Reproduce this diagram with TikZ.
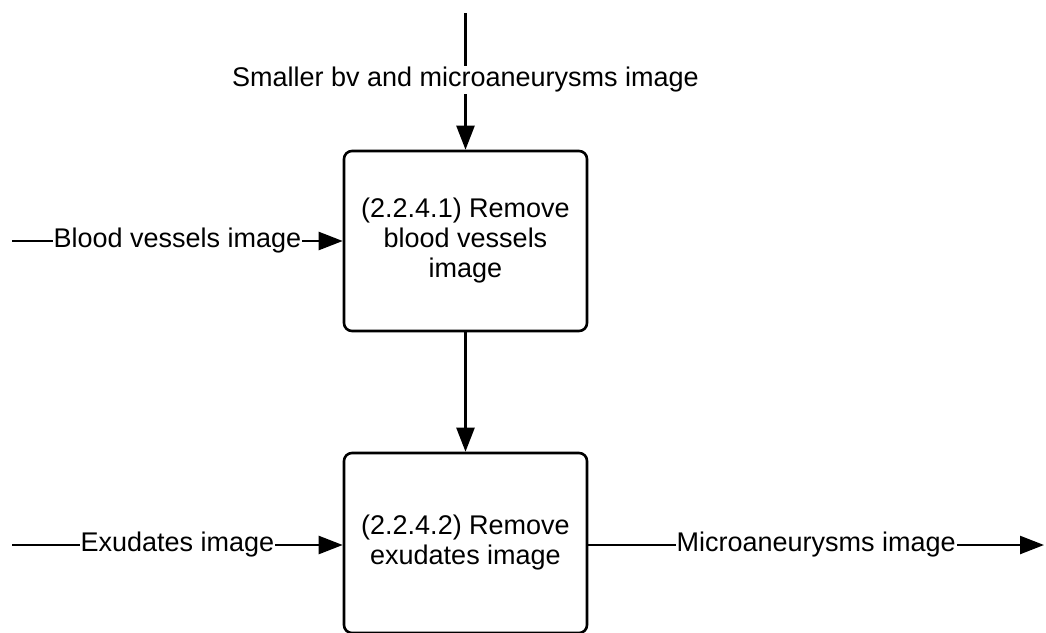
\documentclass[tikz,border=0pt]{standalone}
\usepackage{fontspec}
\setmainfont{Liberation Sans}
\usetikzlibrary{arrows.meta}
\begin{document}
\begin{tikzpicture}[x=1pt,y=-1pt,
  process/.style={draw, line width=2.6pt, rounded corners=8pt, minimum width=243pt,
    minimum height=180pt, align=center, font=\fontsize{27}{30}\selectfont, inner sep=0pt},
  flow/.style={line width=2.4pt, -{Triangle[length=24pt,width=18pt]}},
  flowlabel/.style={fill=white, inner sep=1pt, font=\fontsize{27}{30}\selectfont}]
  \clip (0,0) rectangle (1046,632);
  \fill[white] (0,0) rectangle (1046,632);

  \node[process] (p1) at (465.5,241) {(2.2.4.1) Remove\\blood vessels\\image};
  \node[process] (p2) at (465.5,543) {(2.2.4.2) Remove\\exudates image};

  \coordinate (topin) at (465.5,13);
  \coordinate (bvin) at (12,241);
  \coordinate (exin) at (12,545);
  \coordinate (maout) at (1044,545);

  \draw[flow] (topin) -- node[flowlabel, pos=0.49] {Smaller bv and microaneurysms image} (p1.north);
  \draw[flow] (bvin) -- node[flowlabel] {Blood vessels image} (p1.west);
  \draw[flow] (p1.south) -- (p2.north);
  \draw[flow] (exin) -- node[flowlabel] {Exudates image} (p2.west |- exin);
  \draw[flow] (p2.east |- maout) -- node[flowlabel] {Microaneurysms image} (maout);
\end{tikzpicture}
\end{document}
